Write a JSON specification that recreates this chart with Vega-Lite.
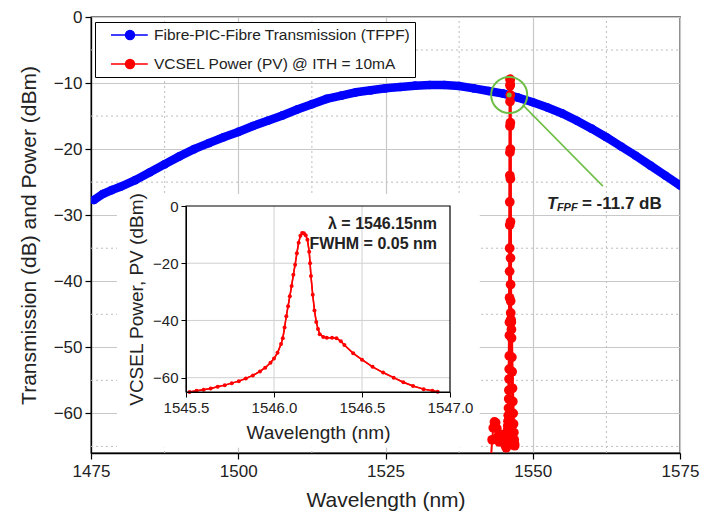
{
  "$schema": "https://vega.github.io/schema/vega-lite/v6.json",
  "width": 589,
  "height": 436,
  "autosize": {"type": "none"},
  "padding": {"left": 91, "top": 17, "right": 21, "bottom": 66},
  "background": "white",
  "config": {
    "font": "Liberation Sans",
    "view": {"stroke": "black", "strokeWidth": 1.3},
    "axis": {"labelFont": "Liberation Sans", "titleFont": "Liberation Sans", "labelColor": "#222", "titleColor": "#222", "domainColor": "black", "tickColor": "black", "titleFontWeight": "normal", "labelFlush": false, "labelOverlap": false},
    "legend": {"labelFont": "Liberation Sans"}
  },
  "datasets": {
    "blue": [
      {"w": 1475.5, "v": -27.7}, {"w": 1477, "v": -26.8}, {"w": 1478.5, "v": -26.2}, {"w": 1480, "v": -25.7},
      {"w": 1482.5, "v": -24.7}, {"w": 1485, "v": -23.5}, {"w": 1487.5, "v": -22.3}, {"w": 1490, "v": -21.1},
      {"w": 1492.5, "v": -20.0}, {"w": 1495, "v": -19.1}, {"w": 1497.5, "v": -18.2}, {"w": 1500, "v": -17.4},
      {"w": 1502.5, "v": -16.5}, {"w": 1505, "v": -15.7}, {"w": 1507.5, "v": -14.9}, {"w": 1510, "v": -14.0},
      {"w": 1512.5, "v": -13.2}, {"w": 1515, "v": -12.4}, {"w": 1517.5, "v": -11.9}, {"w": 1520, "v": -11.4},
      {"w": 1522.5, "v": -11.1}, {"w": 1525, "v": -10.8}, {"w": 1527.5, "v": -10.6}, {"w": 1530, "v": -10.4},
      {"w": 1532.5, "v": -10.3}, {"w": 1535, "v": -10.3}, {"w": 1537.5, "v": -10.45}, {"w": 1540, "v": -10.8},
      {"w": 1542.5, "v": -11.2}, {"w": 1545, "v": -11.6}, {"w": 1547.5, "v": -12.2}, {"w": 1550, "v": -12.9},
      {"w": 1552.5, "v": -13.7}, {"w": 1555, "v": -14.6}, {"w": 1557.5, "v": -15.7}, {"w": 1560, "v": -16.9},
      {"w": 1562.5, "v": -18.2}, {"w": 1565, "v": -19.6}, {"w": 1567.5, "v": -21.0}, {"w": 1570, "v": -22.5},
      {"w": 1572.5, "v": -24.0}, {"w": 1575, "v": -25.5}
    ],
    "bump": [
      {"w": 1542.9, "v": -67}, {"w": 1543.1, "v": -64}, {"w": 1543.3, "v": -62.2}, {"w": 1543.5, "v": -61.3},
      {"w": 1543.7, "v": -61.4}, {"w": 1543.9, "v": -62.3}, {"w": 1544.1, "v": -63.5}, {"w": 1544.3, "v": -64.3},
      {"w": 1544.5, "v": -64.0}, {"w": 1544.7, "v": -63.2}, {"w": 1544.9, "v": -63.5}, {"w": 1545.1, "v": -64.2},
      {"w": 1545.3, "v": -64.8}, {"w": 1545.5, "v": -65.2}
    ],
    "spec": [
      {"w": 1545.52, "v": -65.0}, {"w": 1545.56, "v": -64.6}, {"w": 1545.60, "v": -64.2}, {"w": 1545.64, "v": -63.8},
      {"w": 1545.68, "v": -63.2}, {"w": 1545.72, "v": -62.6}, {"w": 1545.76, "v": -61.9}, {"w": 1545.80, "v": -61.2},
      {"w": 1545.84, "v": -60.3}, {"w": 1545.88, "v": -59.2}, {"w": 1545.92, "v": -57.8}, {"w": 1545.95, "v": -56.5},
      {"w": 1545.98, "v": -54.8}, {"w": 1546.00, "v": -53.3}, {"w": 1546.02, "v": -51.3}, {"w": 1546.04, "v": -48.2},
      {"w": 1546.05, "v": -46.2}, {"w": 1546.06, "v": -42.5}, {"w": 1546.07, "v": -38.5}, {"w": 1546.08, "v": -35.0},
      {"w": 1546.09, "v": -31.5}, {"w": 1546.10, "v": -28.0}, {"w": 1546.11, "v": -24.0}, {"w": 1546.12, "v": -20.5},
      {"w": 1546.13, "v": -16.5}, {"w": 1546.14, "v": -12.8}, {"w": 1546.15, "v": -10.4}, {"w": 1546.16, "v": -9.4},
      {"w": 1546.17, "v": -9.5}, {"w": 1546.18, "v": -10.2}, {"w": 1546.19, "v": -11.8}, {"w": 1546.20, "v": -16.0},
      {"w": 1546.205, "v": -20.0}, {"w": 1546.21, "v": -24.5}, {"w": 1546.22, "v": -31.0}, {"w": 1546.23, "v": -36.5},
      {"w": 1546.24, "v": -40.5}, {"w": 1546.25, "v": -43.0}, {"w": 1546.26, "v": -44.8}, {"w": 1546.28, "v": -45.8},
      {"w": 1546.30, "v": -46.0}, {"w": 1546.33, "v": -46.0}, {"w": 1546.355, "v": -46.2}, {"w": 1546.38, "v": -47.3},
      {"w": 1546.40, "v": -48.6}, {"w": 1546.45, "v": -51.5}, {"w": 1546.50, "v": -53.7}, {"w": 1546.56, "v": -56.2},
      {"w": 1546.62, "v": -58.2}, {"w": 1546.68, "v": -60.0}, {"w": 1546.735, "v": -61.6}, {"w": 1546.79, "v": -62.9},
      {"w": 1546.85, "v": -64.0}, {"w": 1546.90, "v": -64.6}, {"w": 1546.93, "v": -64.9}
    ]
  },
  "resolve": {"scale": {"x": "independent", "y": "independent"}, "axis": {"x": "independent", "y": "independent"}},
  "layer": [
    {
      "layer": [
        {
          "data": {"values": [{"g": 1487.5}, {"g": 1512.5}, {"g": 1537.5}, {"g": 1562.5}]},
          "mark": {"type": "rule", "color": "#bdbdbd", "strokeWidth": 1, "strokeDash": [2, 3]},
          "encoding": {
            "x": {"field": "g", "type": "quantitative"},
            "y": {"datum": -66, "type": "quantitative"},
            "y2": {"datum": 0}
          }
        },
        {
          "data": {"values": [{"g": -5}, {"g": -15}, {"g": -25}, {"g": -35}, {"g": -45}, {"g": -55}, {"g": -65}]},
          "mark": {"type": "rule", "color": "#bdbdbd", "strokeWidth": 1, "strokeDash": [2, 3]},
          "encoding": {
            "y": {"field": "g", "type": "quantitative"},
            "x": {"datum": 1475, "type": "quantitative"},
            "x2": {"datum": 1575}
          }
        },
        {
          "data": {"values": [{}]},
          "mark": {"type": "rect", "fill": "white"},
          "encoding": {
            "x": {"datum": 1479.4, "type": "quantitative"},
            "x2": {"datum": 1541.0},
            "y": {"datum": -26.8, "type": "quantitative"},
            "y2": {"datum": -65.2}
          }
        },
        {
          "data": {"name": "blue"},
          "mark": {"type": "line", "color": "#0000FF", "strokeWidth": 8.5, "strokeCap": "round", "clip": true},
          "encoding": {
            "x": {"field": "w", "type": "quantitative", "scale": {"domain": [1475, 1575], "nice": false, "zero": false},
              "axis": {"orient": "bottom", "values": [1475, 1500, 1525, 1550, 1575], "format": "d", "title": "Wavelength (nm)", "titleFontSize": 21, "labelFontSize": 17, "tickSize": 6, "tickWidth": 1.2, "domainWidth": 1.3, "grid": true, "gridColor": "#c8c8c8", "gridWidth": 1.2, "labelPadding": 4, "titlePadding": 10}},
            "y": {"field": "v", "type": "quantitative", "scale": {"domain": [-66, 0], "nice": false, "zero": false},
              "axis": {"orient": "left", "values": [0, -10, -20, -30, -40, -50, -60], "title": "Transmission (dB) and Power (dBm)", "titleFontSize": 21, "labelFontSize": 17, "tickSize": 6, "tickWidth": 1.2, "domainWidth": 1.3, "grid": true, "gridColor": "#c8c8c8", "gridWidth": 1.2, "labelPadding": 3, "titlePadding": 14}}
          }
        },
        {
          "data": {"name": "blue"},
          "mark": {"type": "point", "filled": true, "size": 75, "opacity": 1, "clip": true},
          "encoding": {
            "x": {"field": "w", "type": "quantitative"},
            "y": {"field": "v", "type": "quantitative"},
            "color": {"datum": "Fibre-PIC-Fibre Transmission (TFPF)", "type": "nominal",
              "scale": {"domain": ["Fibre-PIC-Fibre Transmission (TFPF)", "VCSEL Power (PV) @ ITH = 10mA"], "range": ["#0000FF", "#FF0000"]},
              "legend": {"orient": "none", "legendX": 4, "legendY": 5, "title": null, "padding": 4, "strokeColor": "black", "fillColor": "white", "labelFontSize": 15.5, "labelColor": "#222", "symbolType": "M0.375,0L4.975,0M2.19,0A0.56,0.56,0,1,1,3.31,0A0.56,0.56,0,1,1,2.19,0Z", "symbolSize": 256, "symbolStrokeWidth": 1.5, "rowPadding": 11, "labelOffset": 37, "labelLimit": 400, "symbolOpacity": 1,
                "encode": {"symbols": {"update": {"stroke": {"scale": "color", "field": "value"}}}}}}
          }
        },
        {
          "data": {"name": "bump"},
          "mark": {"type": "line", "color": "#FF0000", "strokeWidth": 2, "clip": true},
          "encoding": {
            "x": {"field": "w", "type": "quantitative"},
            "y": {"field": "v", "type": "quantitative"}
          }
        },
        {
          "data": {"name": "bump"},
          "mark": {"type": "point", "filled": true, "size": 95, "opacity": 1, "color": "#FF0000", "clip": true},
          "encoding": {
            "x": {"field": "w", "type": "quantitative"},
            "y": {"field": "v", "type": "quantitative"}
          }
        },
        {
          "data": {"name": "spec"},
          "mark": {"type": "line", "color": "#FF0000", "strokeWidth": 3, "clip": true},
          "encoding": {
            "x": {"field": "w", "type": "quantitative"},
            "y": {"field": "v", "type": "quantitative"}
          }
        },
        {
          "data": {"name": "spec"},
          "mark": {"type": "point", "filled": true, "size": 95, "opacity": 1, "clip": true},
          "encoding": {
            "x": {"field": "w", "type": "quantitative"},
            "y": {"field": "v", "type": "quantitative"},
            "color": {"datum": "VCSEL Power (PV) @ ITH = 10mA", "type": "nominal"}
          }
        },
        {
          "data": {"values": [{}]},
          "mark": {"type": "point", "shape": "circle", "filled": false, "size": 1300, "stroke": "#6DBE45", "strokeWidth": 2, "opacity": 1},
          "encoding": {
            "x": {"datum": 1546.0, "type": "quantitative"},
            "y": {"datum": -11.8, "type": "quantitative"}
          }
        },
        {
          "data": {"values": [{}]},
          "mark": {"type": "point", "shape": "circle", "filled": true, "size": 25, "color": "#6DBE45", "opacity": 1},
          "encoding": {
            "x": {"datum": 1546.0, "type": "quantitative"},
            "y": {"datum": -11.8, "type": "quantitative"}
          }
        },
        {
          "data": {"values": [{}]},
          "mark": {"type": "rule", "color": "#6DBE45", "strokeWidth": 1.5},
          "encoding": {
            "x": {"datum": 1548.3, "type": "quantitative"},
            "y": {"datum": -13.3, "type": "quantitative"},
            "x2": {"datum": 1561.9},
            "y2": {"datum": -25.6}
          }
        },
        {
          "data": {"values": [{}]},
          "mark": {"type": "text", "text": "T", "align": "left", "baseline": "middle", "fontSize": 17, "fontWeight": "bold", "fontStyle": "italic", "color": "#222"},
          "encoding": {
            "x": {"datum": 1552.4, "type": "quantitative"},
            "y": {"datum": -28.3, "type": "quantitative"}
          }
        },
        {
          "data": {"values": [{}]},
          "mark": {"type": "text", "text": "FPF", "align": "left", "baseline": "middle", "dx": 10, "dy": 4, "fontSize": 11, "fontWeight": "bold", "fontStyle": "italic", "color": "#222"},
          "encoding": {
            "x": {"datum": 1552.4, "type": "quantitative"},
            "y": {"datum": -28.3, "type": "quantitative"}
          }
        },
        {
          "data": {"values": [{}]},
          "mark": {"type": "text", "text": "= -11.7 dB", "align": "left", "baseline": "middle", "dx": 35, "fontSize": 17, "fontWeight": "bold", "color": "#222"},
          "encoding": {
            "x": {"datum": 1552.4, "type": "quantitative"},
            "y": {"datum": -28.3, "type": "quantitative"}
          }
        }
      ]
    },
    {
      "layer": [
        {
          "data": {"name": "spec"},
          "mark": {"type": "line", "color": "#FF0000", "strokeWidth": 1.5},
          "encoding": {
            "x": {"field": "w", "type": "quantitative", "scale": {"domain": [1545.5, 1547.0], "range": [95, 359], "nice": false, "zero": false},
              "axis": {"orient": "bottom", "offset": -61, "values": [1545.5, 1546.0, 1546.5, 1547.0], "format": ".1f", "title": "Wavelength (nm)", "titleFontSize": 19, "labelFontSize": 15, "tickSize": 5, "grid": false, "zindex": 2, "labelPadding": 3, "titlePadding": 8}},
            "y": {"field": "v", "type": "quantitative", "scale": {"domain": [-65, 0], "range": [375, 189], "nice": false, "zero": false},
              "axis": {"orient": "left", "offset": -95, "values": [0, -20, -40, -60], "title": "VCSEL Power, PV (dBm)", "titleFontSize": 19, "labelFontSize": 15, "tickSize": 5, "grid": false, "zindex": 2, "labelPadding": 3, "titlePadding": 6}}
          }
        },
        {
          "data": {"values": [{"g": 1546.0}, {"g": 1546.5}]},
          "mark": {"type": "rule", "color": "#d0d0d0", "strokeWidth": 1},
          "encoding": {
            "x": {"field": "g", "type": "quantitative"},
            "y": {"datum": -65, "type": "quantitative"},
            "y2": {"datum": 0}
          }
        },
        {
          "data": {"values": [{"g": -20}, {"g": -40}, {"g": -60}]},
          "mark": {"type": "rule", "color": "#d0d0d0", "strokeWidth": 1},
          "encoding": {
            "y": {"field": "g", "type": "quantitative"},
            "x": {"datum": 1545.5, "type": "quantitative"},
            "x2": {"datum": 1547.0}
          }
        },
        {
          "data": {"name": "spec"},
          "mark": {"type": "line", "color": "#FF0000", "strokeWidth": 1.5},
          "encoding": {
            "x": {"field": "w", "type": "quantitative"},
            "y": {"field": "v", "type": "quantitative"}
          }
        },
        {
          "data": {"name": "spec"},
          "mark": {"type": "point", "filled": true, "size": 16, "opacity": 1, "color": "#FF0000"},
          "encoding": {
            "x": {"field": "w", "type": "quantitative"},
            "y": {"field": "v", "type": "quantitative"}
          }
        },
        {
          "data": {"values": [{}]},
          "mark": {"type": "rect", "filled": false, "color": "black", "strokeWidth": 1.2},
          "encoding": {
            "x": {"datum": 1545.5, "type": "quantitative"},
            "x2": {"datum": 1547.0},
            "y": {"datum": -65, "type": "quantitative"},
            "y2": {"datum": 0}
          }
        },
        {
          "data": {"values": [{}]},
          "mark": {"type": "text", "text": "λ = 1546.15nm", "align": "right", "baseline": "middle", "fontSize": 16, "fontWeight": "bold", "color": "#222"},
          "encoding": {
            "x": {"datum": 1546.926, "type": "quantitative"},
            "y": {"datum": -6.3, "type": "quantitative"}
          }
        },
        {
          "data": {"values": [{}]},
          "mark": {"type": "text", "text": "FWHM = 0.05 nm", "align": "right", "baseline": "middle", "fontSize": 16, "fontWeight": "bold", "color": "#222"},
          "encoding": {
            "x": {"datum": 1546.926, "type": "quantitative"},
            "y": {"datum": -13.3, "type": "quantitative"}
          }
        }
      ]
    }
  ]
}
